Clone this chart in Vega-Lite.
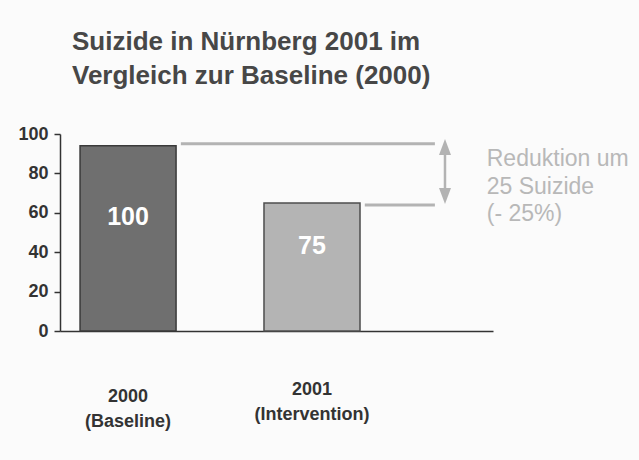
{
  "$schema": "https://vega.github.io/schema/vega-lite/v6.json",
  "width": 433,
  "height": 197,
  "autosize": {"type": "none"},
  "padding": {"left": 60, "top": 134, "right": 146, "bottom": 129},
  "background": "#fbfbfb",
  "title": {
    "text": ["Suizide in Nürnberg 2001 im", "Vergleich zur Baseline (2000)"],
    "anchor": "start",
    "frame": "group",
    "font": "Liberation Sans",
    "fontSize": 26,
    "fontWeight": "bold",
    "color": "#474747",
    "lineHeight": 34,
    "offset": 36,
    "dx": 12
  },
  "config": {"view": {"stroke": null}, "axis": {"labelFont": "Liberation Sans"}},
  "resolve": {"scale": {"y": "independent"}},
  "data": {
    "values": [
      {"cat": "2000 (Baseline)", "value": 94, "label": "100"},
      {"cat": "2001 (Intervention)", "value": 65, "label": "75"}
    ]
  },
  "layer": [
    {
      "mark": {"type": "bar", "strokeWidth": 1.5},
      "encoding": {
        "x": {
          "field": "cat",
          "type": "nominal",
          "scale": {"paddingInner": 0.478, "paddingOuter": 0.416, "align": 0.131},
          "axis": {
            "title": null,
            "labelAngle": 0,
            "ticks": false,
            "tickSize": 0,
            "labelPadding": {"condition": {"test": "datum.value === '2001 (Intervention)'", "value": 49}, "value": 56},
            "labelFontSize": 18,
            "labelFontWeight": "bold",
            "labelColor": "#333333",
            "labelBaseline": "top",
            "labelLineHeight": 25,
            "labelLimit": 0,
            "labelExpr": "split(datum.label, ' ')",
            "domainColor": "#333333",
            "domainWidth": 1.5
          }
        },
        "y": {
          "field": "value",
          "type": "quantitative",
          "scale": {"domain": [0, 100], "nice": false},
          "axis": {
            "title": null,
            "values": [0, 20, 40, 60, 80, 100],
            "grid": false,
            "tickSize": 6,
            "tickWidth": 1.5,
            "tickColor": "#333333",
            "domainColor": "#333333",
            "domainWidth": 1.5,
            "labelFontSize": 18,
            "labelFontWeight": "bold",
            "labelColor": "#333333",
            "labelPadding": 6
          }
        },
        "color": {"field": "cat", "type": "nominal", "scale": {"range": ["#6f6f6f", "#b4b4b4"]}, "legend": null},
        "stroke": {"field": "cat", "type": "nominal", "scale": {"range": ["#3a3a3a", "#4d4d4d"]}, "legend": null}
      }
    },
    {
      "mark": {"type": "text", "font": "Liberation Sans", "fontSize": 25, "fontWeight": "bold", "color": "white", "baseline": "middle", "dy": -21},
      "encoding": {
        "x": {"field": "cat", "type": "nominal"},
        "y": {"field": "value", "type": "quantitative", "scale": {"domain": [0, 200], "nice": false}, "axis": null},
        "text": {"field": "label"}
      }
    },
    {
      "data": {
        "values": [
          {"from": "2000 (Baseline)", "to": "2001 (Intervention)", "level": 95},
          {"from": "2001 (Intervention)", "to": "2001 (Intervention)", "level": 64}
        ]
      },
      "mark": {"type": "rule", "color": "#b3b3b3", "strokeWidth": 3},
      "encoding": {
        "x": {"field": "from", "type": "nominal", "bandPosition": 1.05},
        "x2": {"field": "to", "bandPosition": 1.78},
        "y": {"field": "level", "type": "quantitative", "scale": {"domain": [0, 100], "nice": false}, "axis": null}
      }
    },
    {
      "data": {"values": [{"cat": "2001 (Intervention)", "top": 94, "bottom": 67}]},
      "mark": {"type": "rule", "color": "#b3b3b3", "strokeWidth": 2.5},
      "encoding": {
        "x": {"field": "cat", "type": "nominal", "bandPosition": 1.885},
        "y": {"field": "top", "type": "quantitative", "scale": {"domain": [0, 100], "nice": false}, "axis": null},
        "y2": {"field": "bottom"}
      }
    },
    {
      "data": {
        "values": [
          {"cat": "2001 (Intervention)", "tip": 97.5, "dir": "up"},
          {"cat": "2001 (Intervention)", "tip": 64.5, "dir": "down"}
        ]
      },
      "mark": {"type": "point", "filled": true, "opacity": 1, "color": "#b3b3b3", "size": 256, "strokeWidth": 0},
      "encoding": {
        "x": {"field": "cat", "type": "nominal", "bandPosition": 1.885},
        "y": {"field": "tip", "type": "quantitative", "scale": {"domain": [0, 100], "nice": false}, "axis": null},
        "shape": {
          "field": "dir",
          "type": "nominal",
          "scale": {"domain": ["up", "down"], "range": ["M0,0L-0.75,2L0.75,2Z", "M0,0L-0.75,-2L0.75,-2Z"]},
          "legend": null
        }
      }
    },
    {
      "data": {
        "values": [
          {"cat": "2001 (Intervention)", "at": 84, "note": "Reduktion um"},
          {"cat": "2001 (Intervention)", "at": 69.5, "note": "25 Suizide"},
          {"cat": "2001 (Intervention)", "at": 56, "note": "(- 25%)"}
        ]
      },
      "mark": {"type": "text", "align": "left", "baseline": "alphabetic", "font": "Liberation Sans", "fontSize": 23, "color": "#b8b8b8"},
      "encoding": {
        "x": {"field": "cat", "type": "nominal", "bandPosition": 2.32},
        "y": {"field": "at", "type": "quantitative", "scale": {"domain": [0, 100], "nice": false}, "axis": null},
        "text": {"field": "note"}
      }
    }
  ]
}
